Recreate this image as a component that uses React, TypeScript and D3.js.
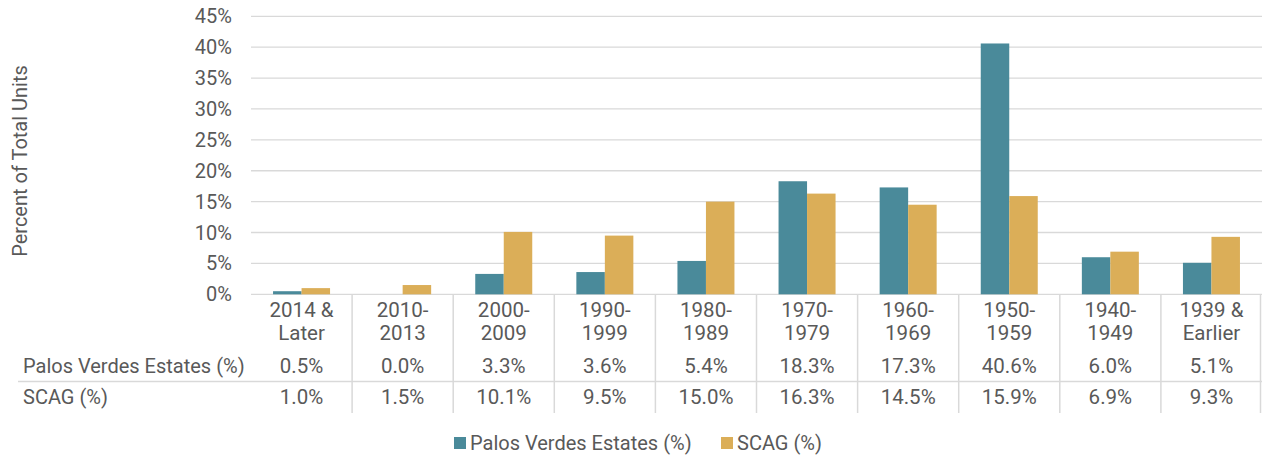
import React from "react";
import * as d3 from "d3";

const categories = [
  ["2014 &", "Later"],
  ["2010-", "2013"],
  ["2000-", "2009"],
  ["1990-", "1999"],
  ["1980-", "1989"],
  ["1970-", "1979"],
  ["1960-", "1969"],
  ["1950-", "1959"],
  ["1940-", "1949"],
  ["1939 &", "Earlier"],
];
const pvValues = [0.5, 0.0, 3.3, 3.6, 5.4, 18.3, 17.3, 40.6, 6.0, 5.1];
const scagValues = [1.0, 1.5, 10.1, 9.5, 15.0, 16.3, 14.5, 15.9, 6.9, 9.3];
const seriesNames = ["Palos Verdes Estates (%)", "SCAG (%)"];
const yTicks = [0, 5, 10, 15, 20, 25, 30, 35, 40, 45];

const W = 1262;
const H = 457;
const plotLeft = 251;
const plotRight = 1262;
const y0 = 294.3;
const y45 = 16.3;
const colors = ["#4A8A9A", "#DBAE58"];
const textColor = "#595959";
const gridColor = "#D9D9D9";
const font = "Roboto, 'Liberation Sans', Arial, sans-serif";

export default function App() {
  const idx = categories.map((_, i) => String(i));
  const x = d3.scaleBand<string>().domain(idx).range([plotLeft, plotRight]).paddingInner(0).paddingOuter(0);
  const y = d3.scaleLinear().domain([0, 45]).range([y0, y45]);
  const bw = x.bandwidth();
  const barW = 28.5;
  const series = [pvValues, scagValues];

  return (
    <svg width={W} height={H} style={{ position: "absolute", left: 0, top: 0, fontFamily: font }}>
      <rect width={W} height={H} fill="#fff" />
      {yTicks.map((t) => (
        <g key={t}>
          <line x1={plotLeft} x2={plotRight} y1={y(t)} y2={y(t)} stroke={gridColor} strokeWidth={1.3} />
          <text x={232} y={y(t)} dy="0.35em" textAnchor="end" fontSize={20} fill={textColor}>
            {t}%
          </text>
        </g>
      ))}
      <text
        transform={`translate(20,${161}) rotate(-90)`}
        textAnchor="middle"
        dy="0.35em"
        fontSize={20}
        fill={textColor}
      >
        Percent of Total Units
      </text>
      {series.map((vals, s) =>
        vals.map((v, i) => {
          const cx = (x(String(i)) as number) + bw / 2;
          const bx = cx - barW + s * barW;
          return (
            <rect key={`${s}-${i}`} x={bx} y={y(v)} width={barW} height={y(0) - y(v)} fill={colors[s]} />
          );
        })
      )}
      <line x1={18} x2={plotRight} y1={381.5} y2={381.5} stroke={gridColor} strokeWidth={1.5} />
      {idx.slice(1).map((k) => (
        <line key={k} x1={x(k)} x2={x(k)} y1={y0} y2={413} stroke={gridColor} strokeWidth={1.5} />
      ))}
      <line x1={1260.5} x2={1260.5} y1={y0} y2={413} stroke={gridColor} strokeWidth={1.5} />
      {categories.map((c, i) => {
        const cx = (x(String(i)) as number) + bw / 2;
        return (
          <g key={i} fill={textColor} fontSize={20.5} textAnchor="middle">
            <text x={cx} y={310} dy="0.35em">{c[0]}</text>
            <text x={cx} y={333} dy="0.35em">{c[1]}</text>
            <text x={cx} y={366} dy="0.35em">{pvValues[i].toFixed(1)}%</text>
            <text x={cx} y={397} dy="0.35em">{scagValues[i].toFixed(1)}%</text>
          </g>
        );
      })}
      <text x={23} y={366} dy="0.35em" fontSize={20} fill={textColor}>{seriesNames[0]}</text>
      <text x={23} y={397} dy="0.35em" fontSize={20} fill={textColor}>{seriesNames[1]}</text>
      <rect x={454} y={437} width={12} height={12} fill={colors[0]} />
      <text x={470} y={443} dy="0.35em" fontSize={20} fill={textColor}>{seriesNames[0]}</text>
      <rect x={721} y={437} width={12} height={12} fill={colors[1]} />
      <text x={737} y={443} dy="0.35em" fontSize={20} fill={textColor}>{seriesNames[1]}</text>
    </svg>
  );
}
